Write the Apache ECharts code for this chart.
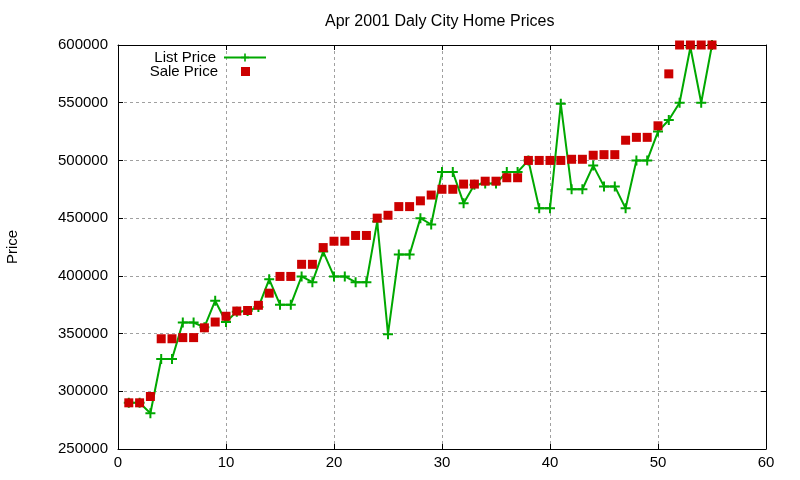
<!DOCTYPE html>
<html>
<head>
<meta charset="utf-8">
<script src="https://cdn.jsdelivr.net/npm/echarts@6/dist/echarts.min.js"></script>
<style>
html,body{margin:0;padding:0;background:#fff;}
#chart{width:800px;height:480px;}
</style>
</head>
<body>
<div id="chart"></div>
<script>
var indices = [];
for (var i = 1; i <= 55; i++) indices.push(i);

var listPrice = [
  290000,290000,281000,328000,328000,359500,359500,355500,378500,360000,
  369000,369500,373000,397000,375000,375000,399500,394500,421000,399500,
  399500,394500,394500,447000,349500,418500,418500,450000,444500,490000,
  490000,463000,479000,480000,480000,490000,490000,500000,458500,458500,
  549000,475000,475000,495500,477500,477500,458500,500000,500000,525000,
  535000,550000,598000,550000,600000
];
var salePrice = [
  290000,290000,295500,345500,345500,346500,346500,355000,360000,365000,
  369500,370000,374500,385000,399500,399500,410000,410000,424500,430000,
  430000,435000,435000,450000,452500,460000,460000,465000,470000,475000,
  475000,479500,479500,482000,482000,485000,485000,500000,500000,500000,
  500000,501000,501000,504500,505000,505000,517500,520000,520000,530000,
  575000,600000,600000,600000,600000
];
var xTicks = [0, 10, 20, 30, 40, 50, 60];
var yTicks = [250000, 300000, 350000, 400000, 450000, 500000, 550000, 600000];

var FONT = 'Liberation Sans, Arial, sans-serif';
var listData = indices.map(function (x, k) { return [x, listPrice[k]]; });
var saleData = indices.map(function (x, k) { return [x, salePrice[k]]; });

var gridDash = { show: true, lineStyle: { color: '#a0a0a0', width: 1, type: [3, 3] } };
var axisLine = { show: true, onZero: false, lineStyle: { color: '#000', width: 1 } };
var tick = { show: true, inside: true, length: 5, lineStyle: { color: '#000', width: 1 } };

var plusPath = 'path://M4,0H6V4H10V6H6V10H4V6H0V4H4Z';

var chart = echarts.init(document.getElementById('chart'), null, { renderer: 'canvas' });
chart.setOption({
  animation: false,
  backgroundColor: '#ffffff',
  title: {
    text: 'Apr 2001 Daly City Home Prices',
    left: 320, top: 9,
    textStyle: { fontFamily: FONT, fontSize: 16, fontWeight: 'normal', color: '#000' }
  },
  legend: [
    {
      data: ['List Price'], right: 533, top: 50, align: 'right',
      itemWidth: 42, itemHeight: 10, itemGap: 0, padding: 0,
      textStyle: { fontFamily: FONT, fontSize: 15, color: '#000', padding: [0, 3, 0, 0] }
    },
    {
      data: [{ name: 'Sale Price', icon: 'rect' }], right: 550, top: 64, align: 'right',
      itemWidth: 9, itemHeight: 9, itemGap: 0, padding: 0,
      itemStyle: { opacity: 1 },
      textStyle: { fontFamily: FONT, fontSize: 15, color: '#000', padding: [0, 18, 0, 0] }
    }
  ],
  grid: { left: 118, right: 34, top: 45, bottom: 31, containLabel: false, outerBoundsMode: 'none' },
  xAxis: [
    {
      type: 'value', min: xTicks[0], max: xTicks[xTicks.length - 1], interval: 10,
      axisLine: axisLine, axisTick: tick, splitLine: gridDash,
      axisLabel: { fontFamily: FONT, fontSize: 15, color: '#000', margin: 6 }
    },
    {
      type: 'value', position: 'top', min: xTicks[0], max: xTicks[xTicks.length - 1], interval: 10,
      axisLine: axisLine, axisTick: tick, splitLine: { show: false }, axisLabel: { show: false }
    }
  ],
  yAxis: [
    {
      type: 'value', min: yTicks[0], max: yTicks[yTicks.length - 1], interval: 50000,
      name: 'Price', nameLocation: 'middle', nameRotate: 90, nameGap: 98,
      nameTextStyle: { fontFamily: FONT, fontSize: 15, color: '#000' },
      axisLine: axisLine, axisTick: tick, splitLine: gridDash,
      axisLabel: {
        fontFamily: FONT, fontSize: 15, color: '#000', margin: 10,
        formatter: function (v) { return String(v); }
      }
    },
    {
      type: 'value', position: 'right', min: yTicks[0], max: yTicks[yTicks.length - 1], interval: 50000,
      axisLine: axisLine, axisTick: tick, splitLine: { show: false }, axisLabel: { show: false }
    }
  ],
  series: [
    {
      name: 'List Price', type: 'line', data: listData, clip: false,
      symbol: plusPath, symbolSize: 10, showAllSymbol: true,
      lineStyle: { color: '#00a800', width: 2 },
      itemStyle: { color: '#00a800' },
      z: 3
    },
    {
      name: 'Sale Price', type: 'scatter', data: saleData, clip: false,
      symbol: 'rect', symbolSize: 9,
      itemStyle: { color: '#cc0000', opacity: 1 },
      z: 4
    }
  ]
});
</script>
</body>
</html>
